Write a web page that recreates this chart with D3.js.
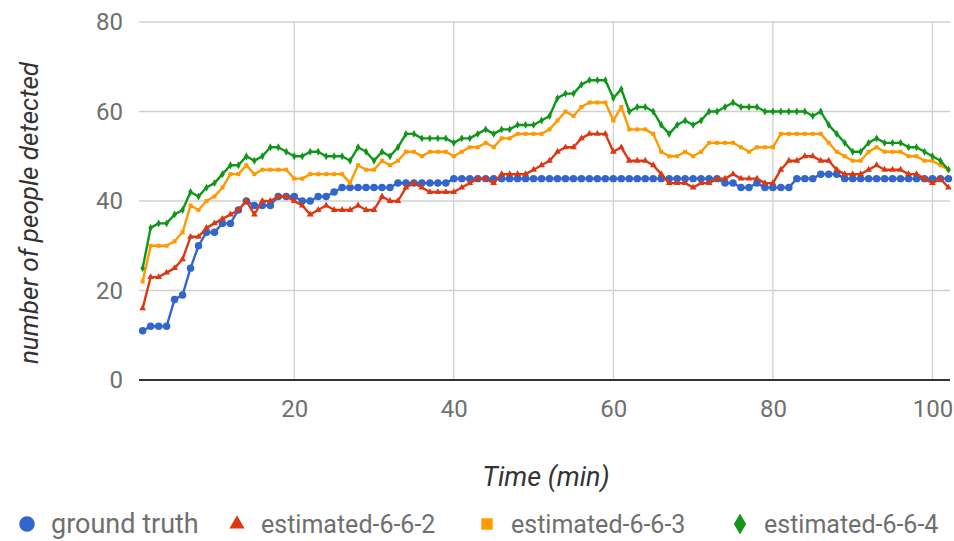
<!DOCTYPE html>
<html><head><meta charset="utf-8">
<script src="https://cdn.jsdelivr.net/npm/d3@7"></script>
<style>
html,body{margin:0;padding:0;background:#fff;}
svg{display:block;font-family:Roboto,"Noto Sans",sans-serif;}
</style></head>
<body><svg id="chart" width="954" height="541"></svg>
<script>
const time = [1,2,3,4,5,6,7,8,9,10,11,12,13,14,15,16,17,18,19,20,21,22,23,24,25,26,27,28,29,30,31,32,33,34,35,36,37,38,39,40,41,42,43,44,45,46,47,48,49,50,51,52,53,54,55,56,57,58,59,60,61,62,63,64,65,66,67,68,69,70,71,72,73,74,75,76,77,78,79,80,81,82,83,84,85,86,87,88,89,90,91,92,93,94,95,96,97,98,99,100,101,102];
const groundTruth = [11,12,12,12,18,19,25,30,33,33,35,35,38,40,39,39,39,41,41,41,40,40,41,41,42,43,43,43,43,43,43,43,44,44,44,44,44,44,44,45,45,45,45,45,45,45,45,45,45,45,45,45,45,45,45,45,45,45,45,45,45,45,45,45,45,45,45,45,45,45,45,45,45,44,44,43,43,44,43,43,43,43,45,45,45,46,46,46,45,45,45,45,45,45,45,45,45,45,45,45,45,45];
const est662 = [16,23,23,24,25,27,32,32,34,35,36,37,38,40,37,40,40,41,41,40,39,37,38,39,38,38,38,39,38,38,41,40,40,43,44,43,42,42,42,42,43,44,45,45,44,46,46,46,46,47,48,49,51,52,52,54,55,55,55,51,52,49,49,49,48,46,44,44,44,43,44,44,45,45,46,45,45,45,44,44,47,49,49,50,50,49,49,47,46,46,46,47,48,47,47,47,46,46,45,44,45,43];
const est663 = [22,30,30,30,31,33,39,38,40,41,43,46,46,48,46,47,47,47,47,45,45,46,46,46,46,46,44,48,47,47,49,48,49,51,51,50,51,51,51,50,51,52,52,53,52,54,54,55,55,55,55,56,58,60,59,61,62,62,62,58,61,56,56,56,55,51,50,50,51,50,51,53,53,53,53,52,51,52,52,52,55,55,55,55,55,55,53,51,50,49,49,51,52,51,51,51,50,50,49,49,48,47];
const est664 = [25,34,35,35,37,38,42,41,43,44,46,48,48,50,49,50,52,52,51,50,50,51,51,50,50,50,49,52,51,49,51,50,52,55,55,54,54,54,54,53,54,54,55,56,55,56,56,57,57,57,58,59,63,64,64,66,67,67,67,63,65,60,61,61,60,57,55,57,58,57,58,60,60,61,62,61,61,61,60,60,60,60,60,60,59,60,57,55,53,51,51,53,54,53,53,53,52,52,51,50,49,47];
const seriesNames = ["ground truth","estimated-6-6-2","estimated-6-6-3","estimated-6-6-4"];
const seriesColors = ["#3366cc","#dc3912","#ff9900","#109618"];
const xTicks = [20,40,60,80,100];
const yTicks = [0,20,40,60,80];
const xTitle = "Time (min)";
const yTitle = "number of people detected";

const seriesValues = [groundTruth, est662, est663, est664];
const symbols = [d3.symbolCircle, d3.symbolTriangle, d3.symbolSquare, d3.symbolDiamond];
const markerSize = [44, 20, 16, 18];
const legendSize = [190, 100, 130, 130];

const svg = d3.select("#chart");
const x = d3.scaleLinear().domain([0.54, 102.2]).range([139, 950]);
const y = d3.scaleLinear().domain([0, 80]).range([380, 22]);

// gridlines
const grid = svg.append("g");
grid.selectAll(".hg").data(yTicks.filter(d => d !== 0)).join("line")
  .attr("x1", x.range()[0]).attr("x2", x.range()[1])
  .attr("y1", d => y(d)).attr("y2", d => y(d))
  .attr("stroke", "#d0d0d0").attr("stroke-width", 1.3);
grid.selectAll(".vg").data(xTicks).join("line")
  .attr("x1", d => x(d)).attr("x2", d => x(d))
  .attr("y1", y(80)).attr("y2", y(0))
  .attr("stroke", "#d0d0d0").attr("stroke-width", 1.3);

// axes (labels via d3 axis generators)
const yAxis = svg.append("g").attr("transform", `translate(${x.range()[0]},0)`)
  .call(d3.axisLeft(y).tickValues(yTicks).tickSize(0).tickPadding(16));
yAxis.select(".domain").remove();
yAxis.selectAll("text").attr("font-size", 24).attr("fill", "#6f6f6f").attr("font-family", "Roboto");

const xAxis = svg.append("g").attr("transform", `translate(0,${y(0)})`)
  .call(d3.axisBottom(x).tickValues(xTicks).tickSize(0).tickPadding(20));
xAxis.select(".domain").remove();
xAxis.selectAll("text").attr("font-size", 24).attr("fill", "#6f6f6f").attr("font-family", "Roboto");

// baseline
svg.append("line").attr("x1", x.range()[0]).attr("x2", x.range()[1])
  .attr("y1", y(0)).attr("y2", y(0)).attr("stroke", "#333").attr("stroke-width", 2);

// series
const line = d3.line().x((d, i) => x(time[i])).y(d => y(d));
seriesValues.forEach((vals, s) => {
  const g = svg.append("g");
  g.append("path").datum(vals).attr("d", line)
    .attr("fill", "none").attr("stroke", seriesColors[s]).attr("stroke-width", 2.4)
    .attr("stroke-linejoin", "round");
  g.selectAll("path.pt").data(vals).join("path").attr("class", "pt")
    .attr("transform", (d, i) => `translate(${x(time[i])},${y(d)})`)
    .attr("d", d3.symbol().type(symbols[s]).size(markerSize[s]))
    .attr("fill", seriesColors[s]);
});

// axis titles
svg.append("text").attr("x", 546).attr("y", 486).attr("text-anchor", "middle")
  .attr("font-size", 27).attr("font-style", "italic").attr("fill", "#333")
  .text(xTitle);
svg.append("text").attr("transform", `translate(38,213) rotate(-90)`)
  .attr("text-anchor", "middle").attr("font-size", 26).attr("font-style", "italic").attr("fill", "#333")
  .text(yTitle);

// legend
const legendX = [27, 237, 487, 740];
const legendFont = [27, 25, 25, 25];
const legend = svg.append("g");
seriesNames.forEach((name, s) => {
  legend.append("path")
    .attr("transform", `translate(${legendX[s]},524)`)
    .attr("d", d3.symbol().type(symbols[s]).size(legendSize[s]))
    .attr("fill", seriesColors[s]);
  legend.append("text").attr("x", legendX[s] + 24).attr("y", 533)
    .attr("font-size", legendFont[s]).attr("fill", "#6f6f6f").text(name);
});
</script></body></html>
